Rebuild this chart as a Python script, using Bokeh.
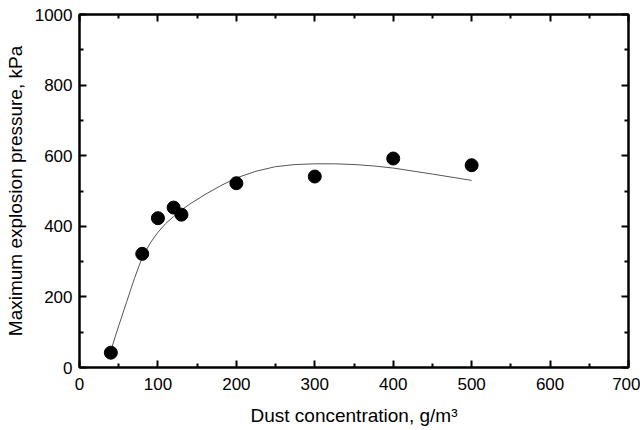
from bokeh.plotting import figure
from bokeh.models import LinearAxis, FixedTicker, Range1d
from bokeh.embed import file_html
from bokeh.resources import INLINE

# measured data points
conc = [40, 80, 100, 120, 130, 200, 300, 400, 500]
pmax = [42, 322, 423, 453, 433, 522, 541, 592, 573]

# fitted curve
fit_x = [40, 50, 60, 70, 80, 90, 100, 110, 120, 130, 140, 160, 180, 200,
         225, 250, 275, 300, 325, 350, 375, 400, 450, 500]
fit_y = [48, 118, 185, 252, 312, 352, 383, 408, 428, 446, 462, 490, 515, 537,
         556, 569, 575, 577, 577, 575, 571, 565, 548, 530]

x_ticks = [0, 100, 200, 300, 400, 500, 600, 700]
x_minor = [50, 150, 250, 350, 450, 550, 650]
y_ticks = [0, 200, 400, 600, 800, 1000]
y_minor = [100, 300, 500, 700, 900]

x_title = "Dust concentration, g/m³"
y_title = "Maximum explosion pressure, kPa"

FONT = "Liberation Sans"

p = figure(width=640, height=430, output_backend="svg",
           toolbar_location=None,
           x_range=Range1d(0, 700), y_range=Range1d(0, 1000),
           min_border_left=79, min_border_right=12, min_border_top=14,
           min_border_bottom=63, x_axis_label=x_title, y_axis_label=y_title)
p.grid.visible = False
p.outline_line_color = "black"
p.outline_line_width = 2
p.background_fill_color = "white"
p.border_fill_color = "white"

p.line(fit_x, fit_y, line_color="#555555", line_width=1)
p.scatter(conc, pmax, size=13, fill_color="black", line_color="black")

def style(ax):
    ax.axis_line_width = 2
    ax.axis_line_color = "black"
    ax.major_tick_in = 7
    ax.major_tick_out = 0
    ax.minor_tick_in = 4
    ax.minor_tick_out = 0
    ax.major_tick_line_width = 2
    ax.minor_tick_line_width = 2
    ax.major_label_text_font = FONT
    ax.major_label_text_font_size = "17px"
    ax.major_label_text_color = "black"
    ax.axis_label_text_font = FONT
    ax.axis_label_text_font_size = "19px"
    ax.axis_label_text_font_style = "normal"
    ax.axis_label_text_color = "black"

xa = p.xaxis[0]
style(xa)
xa.ticker = FixedTicker(ticks=x_ticks, minor_ticks=x_minor)
xa.major_label_standoff = 10
xa.axis_label_standoff = 12

ya = p.yaxis[0]
style(ya)
ya.ticker = FixedTicker(ticks=y_ticks, minor_ticks=y_minor)
ya.major_label_standoff = 7
ya.axis_label_standoff = 6

top = LinearAxis()
style(top)
top.ticker = FixedTicker(ticks=x_ticks, minor_ticks=x_minor)
top.major_label_overrides = {t: "" for t in x_ticks}
top.major_label_text_font_size = "0px"
top.major_label_standoff = 0
p.add_layout(top, "above")

right = LinearAxis()
style(right)
right.ticker = FixedTicker(ticks=y_ticks, minor_ticks=y_minor)
right.major_label_overrides = {t: "" for t in y_ticks}
right.major_label_text_font_size = "0px"
right.major_label_standoff = 0
p.add_layout(right, "right")

open("out.html", "w").write(file_html(p, INLINE))
